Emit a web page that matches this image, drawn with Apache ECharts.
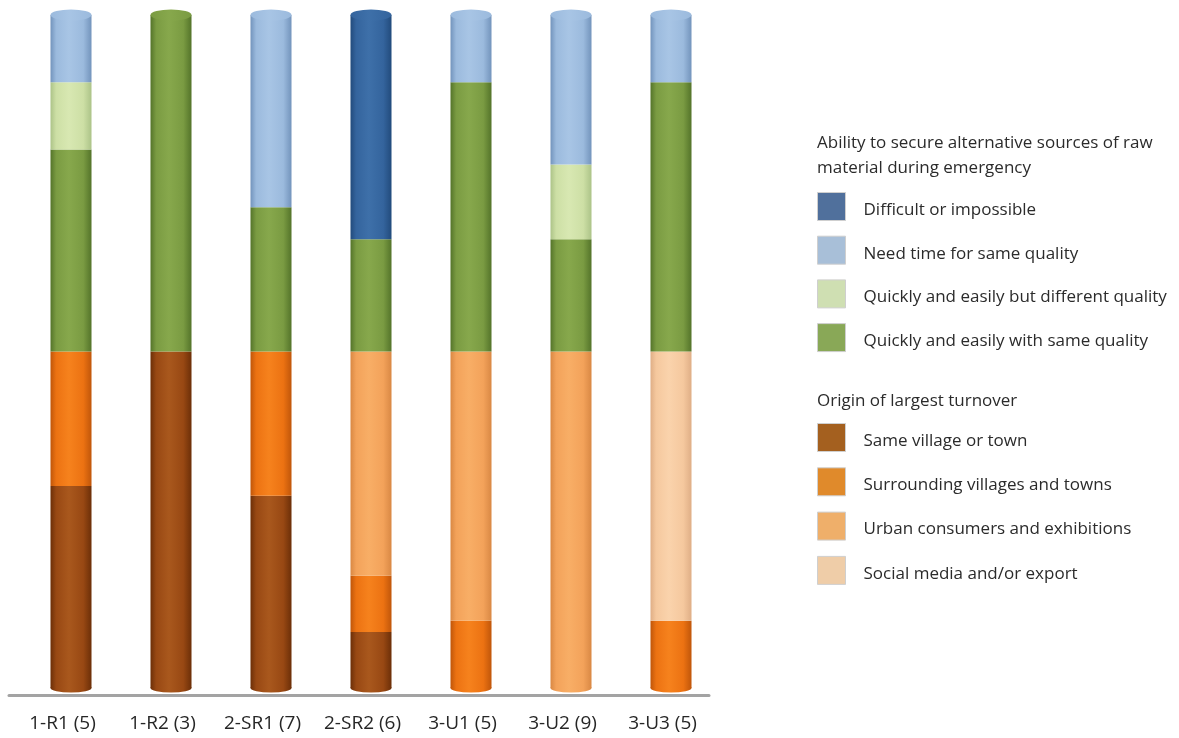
<!DOCTYPE html>
<html>
<head>
<meta charset="utf-8">
<script src="https://cdn.jsdelivr.net/npm/echarts@6/dist/echarts.min.js"></script>
<style>
html,body{margin:0;padding:0;background:#fff;}
#chart{width:1179px;height:738px;}
</style>
</head>
<body>
<div id="chart"></div>
<script>
// ---------- DATA ----------
const categories = ['1-R1 (5)', '1-R2 (3)', '2-SR1 (7)', '2-SR2 (6)', '3-U1 (5)', '3-U2 (9)', '3-U3 (5)'];
const sampleSizes = [5, 3, 7, 6, 5, 9, 5];

// Origin of largest turnover (counts of respondents)
const sameVillage   = [3, 3, 4, 1, 0, 0, 0];
const surrounding   = [2, 0, 3, 1, 1, 0, 1];
const urban         = [0, 0, 0, 4, 4, 9, 0];
const socialMedia   = [0, 0, 0, 0, 0, 0, 4];

// Ability to secure alternative sources of raw material (counts)
const quicklySame   = [3, 3, 3, 2, 4, 3, 4];
const quicklyDiff   = [1, 0, 0, 0, 0, 2, 0];
const needTime      = [1, 0, 4, 0, 1, 4, 1];
const difficult     = [0, 0, 0, 4, 0, 0, 0];

const legendTitleTop = ['Ability to secure alternative sources of raw', 'material during emergency'];
const legendTitleBottom = 'Origin of largest turnover';

// ---------- STYLES ----------
const seriesDefs = [
  {name: 'Same village or town', data: sameVillage, half: 0, col: {dark:'#6c2f08', base:'#984813', light:'#a9581d'}, swatch:'#a4601f'},
  {name: 'Surrounding villages and towns', data: surrounding, half: 0, col: {dark:'#c0560a', base:'#ec7212', light:'#f6821d'}, swatch:'#e08a2b'},
  {name: 'Urban consumers and exhibitions', data: urban, half: 0, col: {dark:'#d98844', base:'#f3a25a', light:'#f8ae66'}, swatch:'#efaf6a'},
  {name: 'Social media and/or export', data: socialMedia, half: 0, col: {dark:'#dfae86', base:'#f5c89e', light:'#fad3ac'}, swatch:'#efcda8'},
  {name: 'Quickly and easily with same quality', data: quicklySame, half: 1, col: {dark:'#54742a', base:'#7a9b42', light:'#87a84c'}, swatch:'#89a857'},
  {name: 'Quickly and easily but different quality', data: quicklyDiff, half: 1, col: {dark:'#acc388', base:'#cddfa5', light:'#d8e8b2'}, swatch:'#cfdfb2'},
  {name: 'Need time for same quality', data: needTime, half: 1, col: {dark:'#7394bc', base:'#9bbadd', light:'#a8c5e5'}, swatch:'#a8bfd8'},
  {name: 'Difficult or impossible', data: difficult, half: 1, col: {dark:'#224b7c', base:'#34649d', light:'#3e70a9'}, swatch:'#50709c'}
];

function cyl(c) {
  return {
    type: 'linear', x: 0, y: 0, x2: 1, y2: 0,
    colorStops: [
      {offset: 0, color: c.dark},
      {offset: 0.14, color: c.base},
      {offset: 0.45, color: c.light},
      {offset: 0.8, color: c.base},
      {offset: 1, color: c.dark}
    ]
  };
}

// share of each half (each half = 50 of the 0-100 axis)
function share(count, i) { return count / sampleSizes[i] * 50; }

// find top-most and bottom-most non-empty series per category
const topIdx = categories.map((_, i) => {
  let t = -1;
  seriesDefs.forEach((s, k) => { if (s.data[i] > 0) t = k; });
  return t;
});
const botIdx = categories.map((_, i) => seriesDefs.findIndex(s => s.data[i] > 0));

const barSeries = seriesDefs.map((s, k) => ({
  name: s.name,
  type: 'bar',
  stack: 'all',
  barWidth: 41,
  xAxisIndex: 0, yAxisIndex: 0,
  itemStyle: {color: cyl(s.col)},
  emphasis: {disabled: true},
  data: s.data.map((v, i) => share(v, i))
}));

const topCap = {
  type: 'pictorialBar',
  symbol: 'circle',
  symbolSize: [41, 11],
  symbolPosition: 'end',
  symbolOffset: [0, '-50%'],
  z: 5,
  silent: true,
  xAxisIndex: 0, yAxisIndex: 0,
  data: categories.map((_, i) => {
    const c = seriesDefs[topIdx[i]].col;
    return {value: 100, itemStyle: {color: {
      type: 'linear', x: 0, y: 0, x2: 1, y2: 0,
      colorStops: [
        {offset: 0, color: c.base},
        {offset: 0.45, color: c.light},
        {offset: 1, color: c.base}
      ]}}};
  })
};
const bottomCap = {
  type: 'pictorialBar',
  symbol: 'circle',
  symbolSize: [41, 9],
  symbolPosition: 'start',
  symbolOffset: [0, '50%'],
  z: 1,
  silent: true,
  xAxisIndex: 0, yAxisIndex: 0,
  data: categories.map((_, i) => ({value: 100, itemStyle: {color: cyl(seriesDefs[botIdx[i]].col)}}))
};

const FONT = 'Open Sans';
const legendItem = s => ({name: s.name, itemStyle: {color: s.swatch, borderColor: '#cfcfcf', borderWidth: 1}});
const legendCommon = {
  orient: 'vertical',
  left: 817,
  padding: 0,
  itemWidth: 28,
  itemHeight: 28,
  icon: 'rect',
  selectedMode: false,
  formatter: '{t|{name}}',
  textStyle: {
    fontFamily: FONT, fontSize: 17, color: '#2b2b2b',
    rich: {t: {fontFamily: FONT, fontSize: 17, color: '#2b2b2b', lineHeight: 22, padding: [7, 0, 0, 13]}}
  }
};

const option = {
  animation: false,
  backgroundColor: '#ffffff',
  grid: [
    {left: 21, width: 700, top: 15, bottom: 50},
    {left: 9, width: 700, top: 15, bottom: 43}
  ],
  xAxis: [
    {type: 'category', gridIndex: 0, data: categories,
     axisLine: {show: false}, axisTick: {show: false},
     axisLabel: {interval: 0, margin: 26, fontFamily: FONT, fontSize: 19, color: '#262626', padding: [0, 17, 0, 0]}},
    {type: 'category', gridIndex: 1, data: categories,
     axisLine: {show: true, lineStyle: {color: '#a3a3a3', width: 3}},
     axisTick: {show: false}, axisLabel: {show: false}}
  ],
  yAxis: [
    {type: 'value', gridIndex: 0, min: 0, max: 100, show: false},
    {type: 'value', gridIndex: 1, min: 0, max: 100, show: false}
  ],
  legend: [
    Object.assign({}, legendCommon, {top: 192, itemGap: 14.7,
      data: seriesDefs.filter(s => s.half === 1).reverse().map(legendItem)}),
    Object.assign({}, legendCommon, {top: 423, itemGap: 15.3,
      data: seriesDefs.filter(s => s.half === 0).map(legendItem)})
  ],
  graphic: [
    {type: 'text', left: 817, top: 135, style: {text: legendTitleTop[0], font: '17px "Open Sans"', fill: '#2b2b2b'}},
    {type: 'text', left: 817, top: 160, style: {text: legendTitleTop[1], font: '17px "Open Sans"', fill: '#2b2b2b'}},
    {type: 'text', left: 817, top: 393, style: {text: legendTitleBottom, font: '17px "Open Sans"', fill: '#2b2b2b'}}
  ],
  series: [bottomCap].concat(barSeries, [topCap])
};

const chart = echarts.init(document.getElementById('chart'), null, {renderer: 'canvas'});
chart.setOption(option);
</script>
</body>
</html>
